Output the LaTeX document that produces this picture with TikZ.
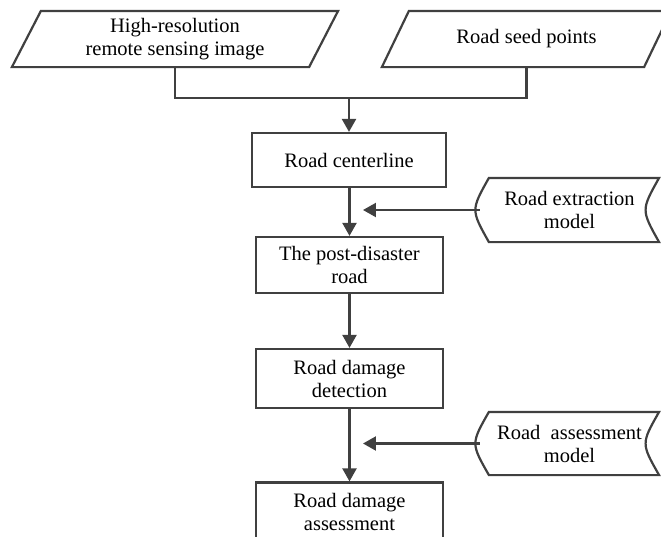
\documentclass[tikz,border=0pt]{standalone}
\usepackage{fontspec}
\setmainfont{Liberation Serif}
\usetikzlibrary{arrows.meta,calc}
\definecolor{linegray}{HTML}{404040}
\tikzset{
  base/.style={draw=linegray, line width=1.1pt, align=center, inner sep=2pt, font=\fontsize{10.25}{11.5}\selectfont},
  process/.style={base, rectangle, minimum width=93.5pt, minimum height=29pt},
  inputdata/.style={base, draw=none, minimum height=27pt},
  stored/.style={base, draw=none, minimum width=88.5pt, minimum height=31pt},
  line/.style={draw=linegray, line width=1.1pt},
  arrow/.style={line, -{Triangle[length=6.5pt,width=7pt]}}
}
% outline of an input (parallelogram) round a node, #2 = slant
\newcommand{\inputoutline}[2]{%
  \draw[line] (#1.south west) -- ($(#1.north west)+(#2,0)$) -- (#1.north east)
    -- ($(#1.south east)+(-#2,0)$) -- cycle;}
% outline of a stored data symbol round a node
\newcommand{\storedoutline}[1]{%
  \draw[line] (#1.north) -- (#1.north east)
    .. controls ($(#1.east)+(-18,0)$) .. (#1.south east)
    -- ($(#1.south west)+(9,0)$)
    .. controls ($(#1.west)+(-9,0)$) .. ($(#1.north west)+(9,0)$) -- cycle;}

\begin{document}
\begin{tikzpicture}[x=0.5pt, y=-0.5pt]
  \clip (0,0) rectangle (661,537);

  \node[inputdata, minimum width=162pt] (image) at (175,39) {High-resolution\\remote sensing image};
  \node[inputdata, minimum width=143.5pt] (seeds) at (526.5,39) {Road seed points};
  \inputoutline{image}{29}
  \inputoutline{seeds}{27}

  \node[process, minimum width=97pt, minimum height=27pt] (centerline) at (349,160) {Road centerline};
  \node[process, minimum height=28pt] (postroad) at (349.5,265) {The post-disaster\\road};
  \node[process, minimum height=29.5pt] (detection) at (349.5,378.5) {Road damage\\detection};
  \node[process] (assessment) at (349.5,511.5) {Road damage\\assessment};

  \node[stored] (extractmodel) at (569.5,210) {Road extraction\\model};
  \node[stored, minimum height=30.5pt] (assessmodel) at (569.5,443.5) {Road~~assessment\\model};
  \storedoutline{extractmodel}
  \storedoutline{assessmodel}

  \coordinate (merge) at (349,98);
  \coordinate (extracttip) at (363,210);
  \coordinate (assesstip) at (363,443.5);

  \draw[line] (image.south) |- (merge) -| (seeds.south);
  \draw[arrow] (merge) -- (centerline.north);
  \draw[arrow] (centerline.south -| postroad.north) -- (postroad.north);
  \draw[arrow] (postroad) -- (detection);
  \draw[arrow] (detection) -- (assessment);
  \draw[arrow] (extractmodel.west) -- (extracttip);
  \draw[arrow] (assessmodel.west) -- (assesstip);
\end{tikzpicture}
\end{document}
